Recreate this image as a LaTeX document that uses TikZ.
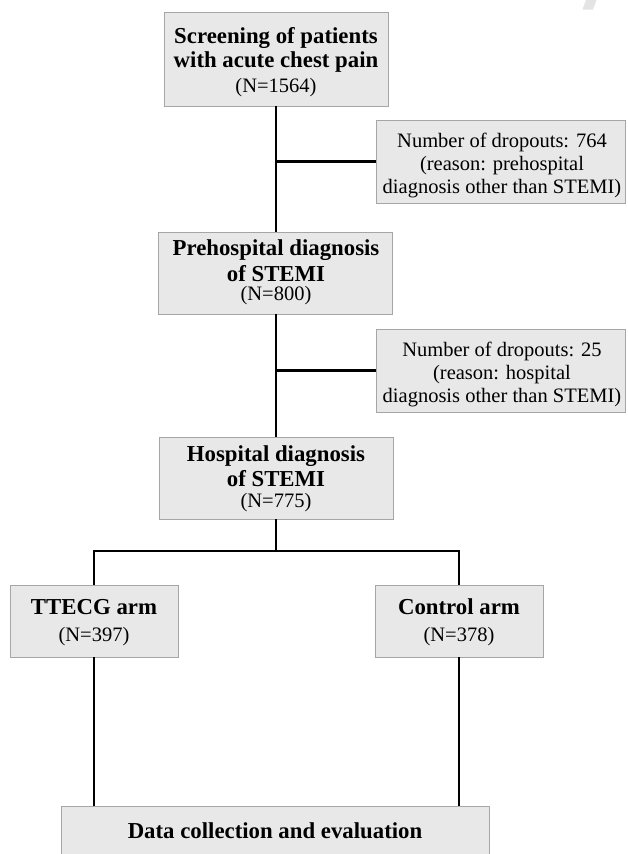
\documentclass[tikz,border=0pt]{standalone}
\usepackage{fontspec}
\setmainfont{Liberation Serif}
\definecolor{boxfill}{HTML}{E8E8E8}
\definecolor{boxline}{HTML}{A6A6A6}
\definecolor{wmark}{HTML}{E4E4E4}
\begin{document}
\begin{tikzpicture}[x=1pt,y=-1pt,
  box/.style={draw=boxline, fill=boxfill, line width=0.9pt, inner sep=0pt, rectangle},
  bt/.style={font=\bfseries\fontsize{22.8}{25}\selectfont, anchor=base, inner sep=0pt},
  rt/.style={font=\fontsize{20.5}{23}\selectfont, anchor=base, inner sep=0pt},
  link/.style={line width=2.6pt, line join=miter, line cap=butt}]
\useasboundingbox (0,0) rectangle (627,854);
\fill[white] (0,0) rectangle (627,854);
% watermark fragment
\fill[wmark] (586,0) -- (596.5,0) -- (593,9.5) -- (582.5,9.5) -- cycle;

% boxes
\node[box, minimum width=224pt, minimum height=94pt] (b1) at (276,59) {};
\node[box, minimum width=249pt, minimum height=83pt] (d1) at (500.5,161.5) {};
\node[box, minimum width=234pt, minimum height=82pt] (b2) at (275,273) {};
\node[box, minimum width=249pt, minimum height=83pt] (d2) at (500.5,370.5) {};
\node[box, minimum width=234pt, minimum height=82pt] (b3) at (276,478) {};
\node[box, minimum width=168pt, minimum height=72pt] (tt) at (94,621) {};
\node[box, minimum width=168pt, minimum height=72pt] (ct) at (459,621) {};
\node[box, minimum width=428pt, minimum height=50pt] (dc) at (275,831) {};

% texts
\node[bt] (t1a) at (276,43) {Screening of patients};
\node[bt] (t1b) at (276,67) {with acute chest pain};
\node[rt] (t1c) at (276,92) {(N=1564)};

\node[rt] (s1a) at (502,147) {Number of dropouts: 764};
\node[rt] (s1b) at (502,170) {(reason: prehospital};
\node[rt] (s1c) at (502,193) {diagnosis other than STEMI)};

\node[bt] (t2a) at (276,255) {Prehospital diagnosis};
\node[bt] (t2b) at (276,281.5) {of STEMI};
\node[rt] (t2c) at (276,300.5) {(N=800)};

\node[rt] (s2a) at (502,356) {Number of dropouts: 25};
\node[rt] (s2b) at (502,379) {(reason: hospital};
\node[rt] (s2c) at (502,402) {diagnosis other than STEMI)};

\node[bt] (t3a) at (276,461.5) {Hospital diagnosis};
\node[bt] (t3b) at (276,486.5) {of STEMI};
\node[rt] (t3c) at (276,507) {(N=775)};

\node[bt] (t4a) at (94,614) {TTECG arm};
\node[rt] (t4b) at (94,641.5) {(N=397)};
\node[bt] (t5a) at (459,614) {Control arm};
\node[rt] (t5b) at (459,641.5) {(N=378)};

\node[bt] (t6) at (275,838) {Data collection and evaluation};

% connectors
\coordinate (j1) at (276,161.5);
\coordinate (j2) at (276,370.5);
\coordinate (split) at (276,551);
\draw[link] (b1.south -| j1) -- (b2.north -| j1);
\draw[link] (j1) -- (d1.west);
\draw[link] (b2.south -| j2) -- (b3.north -| j2);
\draw[link] (j2) -- (d2.west);
\draw[link] (b3.south -| split) -- (split);
\draw[link] (tt.north) |- (split) -| (ct.north);
\draw[link] (tt.south) -- (tt.south |- dc.north);
\draw[link] (ct.south) -- (ct.south |- dc.north);
\end{tikzpicture}
\end{document}
